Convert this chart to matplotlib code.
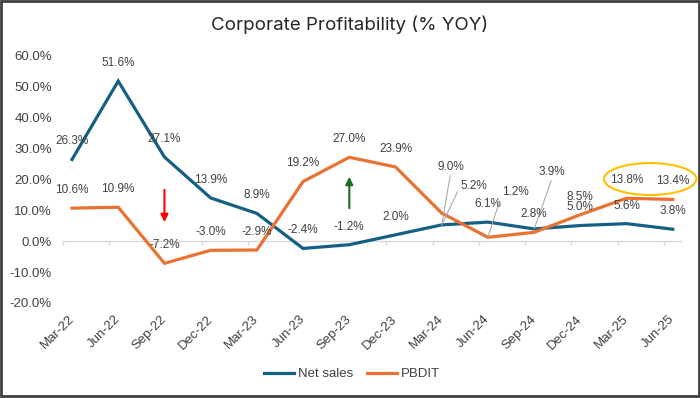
import matplotlib
matplotlib.use('Agg')
import matplotlib.pyplot as plt
from matplotlib.patches import Ellipse, Rectangle
import numpy as np

## Chart data
quarters = ['Mar-22', 'Jun-22', 'Sep-22', 'Dec-22', 'Mar-23', 'Jun-23', 'Sep-23',
            'Dec-23', 'Mar-24', 'Jun-24', 'Sep-24', 'Dec-24', 'Mar-25', 'Jun-25']
net_sales = [26.3, 51.6, 27.1, 13.9, 8.9, -2.4, -1.2, 2.0, 5.2, 6.1, 3.9, 5.0, 5.6, 3.8]
pbdit = [10.6, 10.9, -7.2, -3.0, -2.9, 19.2, 27.0, 23.9, 9.0, 1.2, 2.8, 8.5, 13.8, 13.4]

## Callout arrows (quarter index, start, end) and highlight oval
down_arrow = (2, 17.4, 5.2)
up_arrow = (6, 9.7, 21.6)
oval = (12.51, 20.0, 2.0, 10.3)                     # x, y, width, height

c_net = '#156082'
c_pb = '#E97132'
c_txt = '#404040'

plt.rcParams['font.family'] = ['Liberation Sans', 'DejaVu Sans']

fig = plt.figure(figsize=(7.0, 3.98), dpi=100)
ax = fig.add_axes([0.09, 0.2387, 0.883, 0.623])

x = np.arange(len(quarters))
ax.plot(x, net_sales, color=c_net, lw=2.3, label='Net sales', solid_joinstyle='miter', zorder=3)
ax.plot(x, pbdit, color=c_pb, lw=2.3, label='PBDIT', solid_joinstyle='miter', zorder=3)

## Data labels; a few use leader lines (series, index) -> (dx, dy, relpos, target series)
leaders = {('pb', 8): (6.5, 42, (0.5, 0), 'net'),
           ('net', 8): (23, 28, (0, 0.5), 'net'),
           ('pb', 9): (20, 32.4, (0, 0.5), 'pb'),
           ('net', 10): (13, 41, (0.5, 0), 'net')}
series = {'net': net_sales, 'pb': pbdit}
for key, vals in series.items():
    for i, v in enumerate(vals):
        txt = '%.1f%%' % v
        if (key, i) in leaders:
            dx, dy, rp, tgt = leaders[(key, i)]
            ax.annotate(txt, xy=(i, series[tgt][i]), xytext=(dx, dy), textcoords='offset points',
                        ha='center', va='center', fontsize=8.5, color=c_txt, zorder=5,
                        arrowprops=dict(arrowstyle='-', color='#A6A6A6', lw=0.75,
                                        relpos=rp, shrinkA=0, shrinkB=0))
        else:
            ax.annotate(txt, xy=(i, v), xytext=(0, 13), textcoords='offset points',
                        ha='center', va='center', fontsize=8.5, color=c_txt, zorder=5)

## Arrows
ax.annotate('', xy=(down_arrow[0], down_arrow[2]), xytext=(down_arrow[0], down_arrow[1]),
            arrowprops=dict(arrowstyle='-|>', color='#FF0000', lw=1.5, mutation_scale=11))
ax.annotate('', xy=(up_arrow[0], up_arrow[2]), xytext=(up_arrow[0], up_arrow[1]),
            arrowprops=dict(arrowstyle='-|>', color='#1E6B1E', lw=1.5, mutation_scale=11))

## Highlight oval
ax.add_patch(Ellipse((oval[0], oval[1]), oval[2], oval[3], fill=False, ec='#FFC000', lw=1.5,
                     clip_on=False, zorder=6))

## Axes
ax.set_xlim(-0.195, 13.18)
ax.set_ylim(-20, 60)
ax.set_yticks(np.arange(-20, 61, 10))
ax.set_yticklabels(['%.1f%%' % t for t in np.arange(-20, 61, 10)])
ax.tick_params(axis='y', length=0, pad=8, labelsize=9.5, labelcolor=c_txt)

for s in ['top', 'right', 'left']:
    ax.spines[s].set_visible(False)
ax.spines['bottom'].set_position(('data', 0))
ax.spines['bottom'].set_color('#D9D9D9')
ax.spines['bottom'].set_linewidth(1)

ax.set_xticks(x)
ax.set_xticklabels(quarters)
ax.set_xticks(x - 0.195, minor=True)
ax.tick_params(axis='x', which='major', length=0, pad=55, labelsize=9.5, labelcolor=c_txt)
ax.tick_params(axis='x', which='minor', length=3, width=1, color='#D9D9D9', direction='out')
plt.setp(ax.get_xticklabels(), rotation=45, ha='right', va='center', rotation_mode='anchor')

fig.text(0.5, 0.937, 'Corporate Profitability (% YOY)', ha='center', va='center',
         fontsize=13.5, color='#262626', family=['Inter', 'DejaVu Sans'])

fig.legend(loc='center', bbox_to_anchor=(0.503, 0.06), ncol=2, frameon=False,
           fontsize=9.5, handlelength=2.3, handletextpad=0.3, columnspacing=1.0,
           labelcolor=c_txt)

fig.patches.append(Rectangle((0.002, 0.006), 0.996, 0.991, transform=fig.transFigure,
                             fill=False, ec='#404040', lw=2))

fig.savefig('out.png', dpi=100)
